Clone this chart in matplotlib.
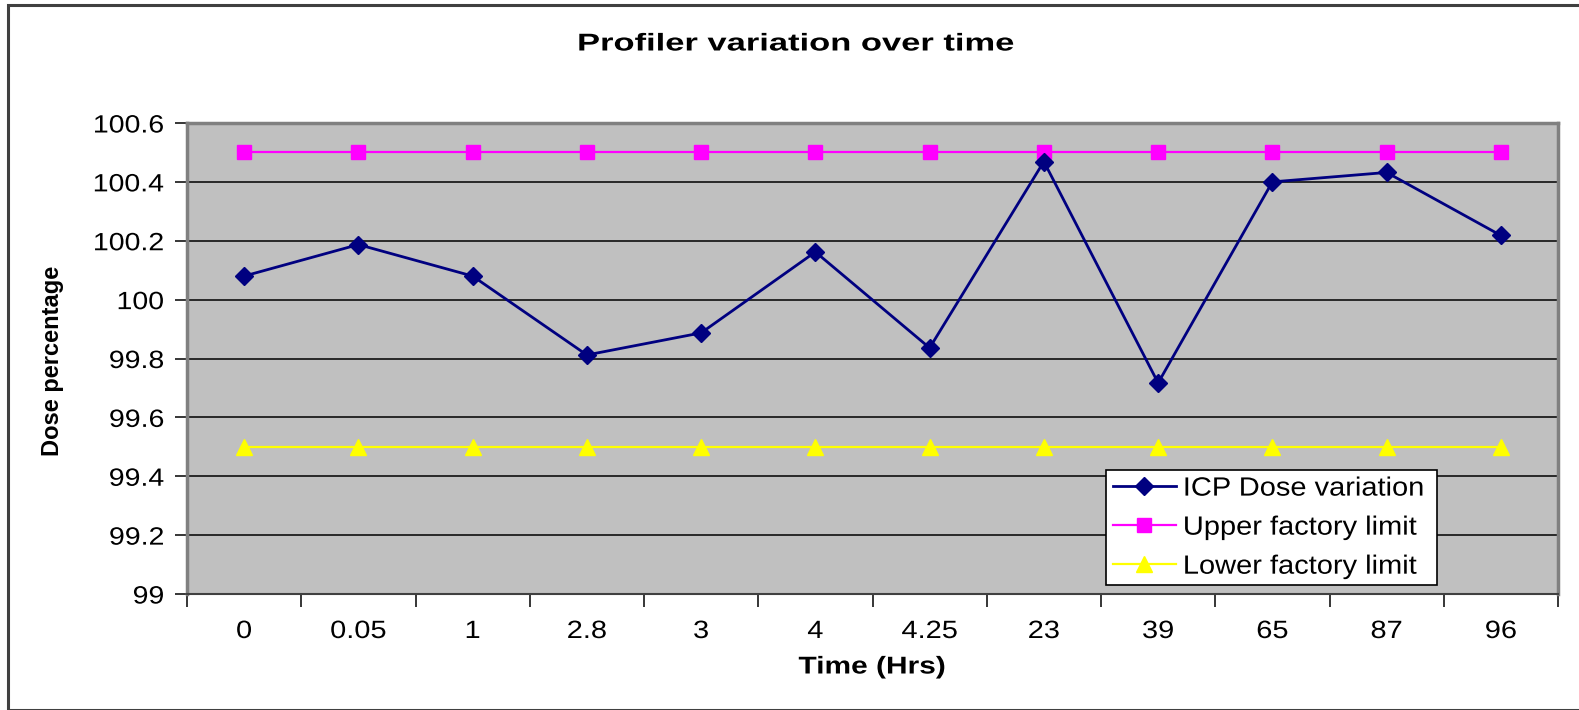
import matplotlib
matplotlib.use("Agg")
import matplotlib.pyplot as plt
from matplotlib.patches import Rectangle
from matplotlib.lines import Line2D
from matplotlib.patheffects import AbstractPathEffect
from matplotlib.transforms import Affine2D

# Sampling times (hours) used as category labels
times = ["0", "0.05", "1", "2.8", "3", "4", "4.25", "23", "39", "65", "87", "96"]
# Measured ICP dose variation (%)
icp_dose = [100.08, 100.187, 100.08, 99.812, 99.887, 100.162,
            99.836, 100.469, 99.717, 100.40, 100.432, 100.218]
upper_limit = [100.5] * len(times)
lower_limit = [99.5] * len(times)
y_ticks = [99, 99.2, 99.4, 99.6, 99.8, 100, 100.2, 100.4, 100.6]
y_tick_labels = ["99", "99.2", "99.4", "99.6", "99.8", "100", "100.2", "100.4", "100.6"]

plt.rcParams['font.family'] = ['Liberation Sans', 'DejaVu Sans']


class HStretch(AbstractPathEffect):
    """Widen glyphs horizontally around the left, centre or right of the string."""

    def __init__(self, sx, anchor="center"):
        super().__init__()
        self.sx = sx
        self.anchor = anchor

    def draw_path(self, renderer, gc, tpath, affine, rgbFace=None):
        ext = tpath.get_extents()
        if self.anchor == "center":
            cx = (ext.x0 + ext.x1) / 2
        elif self.anchor == "right":
            cx = ext.x1
        else:
            cx = ext.x0
        t = Affine2D().translate(-cx, 0).scale(self.sx, 1).translate(cx, 0) + affine
        renderer.draw_path(gc, tpath, t, rgbFace)


W, H = 1579, 710
fig = plt.figure(figsize=(W / 100, H / 100), dpi=100)

# Outer chart frame
fig.patches.append(Rectangle((8 / W, 0), 1.0, 1 - 5 / H, transform=fig.transFigure,
                             fill=False, edgecolor="#404040", linewidth=2.2))

left, right, top, bottom = 187, 1558, 123, 594
ax = fig.add_axes([left / W, 1 - bottom / H, (right - left) / W, (bottom - top) / H])
ax.set_facecolor("#C0C0C0")

x = list(range(len(times)))
ax.set_xlim(-0.5, len(times) - 0.5)
ax.set_ylim(99, 100.6)

ax.set_yticks(y_ticks)
ax.set_yticklabels(y_tick_labels)
ax.yaxis.grid(True, color="black", linewidth=1.1)
ax.set_axisbelow(True)

# Category labels centred, tick marks between categories
ax.set_xticks(x)
ax.set_xticklabels(times)
ax.tick_params(axis="x", which="major", length=0, pad=18, labelsize=18)
ax.set_xticks([i - 0.5 for i in range(len(times) + 1)], minor=True)
ax.tick_params(axis="x", which="minor", length=9, width=1.1, color="black", direction="out")
ax.tick_params(axis="y", length=9, width=1.1, color="black", pad=7.5, labelsize=18)

for lbl in ax.get_xticklabels():
    lbl.set_path_effects([HStretch(1.16, "center")])
for lbl in ax.get_yticklabels():
    lbl.set_path_effects([HStretch(1.14, "right")])

for side in ("top", "right", "left"):
    ax.spines[side].set_color("#808080")
    ax.spines[side].set_linewidth(2.5)
ax.spines["bottom"].set_color("#404040")
ax.spines["bottom"].set_linewidth(1.5)

ax.plot(x, upper_limit, color="#FF00FF", linewidth=1.6, marker="s", markersize=10,
        markeredgecolor="#FF00FF", label="Upper factory limit", zorder=3)
ax.plot(x, lower_limit, color="#FFFF00", linewidth=1.6, marker="^", markersize=11,
        markeredgecolor="#FFFF00", label="Lower factory limit", zorder=3)
ax.plot(x, icp_dose, color="#000080", linewidth=2, marker="D", markersize=9,
        markeredgecolor="#000080", label="ICP Dose variation", zorder=4)

title = fig.text(796 / W, 1 - 44 / H, "Profiler variation over time", ha="center",
                 va="center", fontsize=17.5, fontweight="bold")
title.set_path_effects([HStretch(1.42, "center")])
xlab = fig.text(872 / W, 1 - 667 / H, "Time (Hrs)", ha="center", va="center",
                fontsize=17.5, fontweight="bold")
xlab.set_path_effects([HStretch(1.23, "center")])
fig.text(53 / W, 1 - 361 / H, "Dose percentage", ha="center", va="center",
         rotation=90, fontsize=17, fontweight="bold")

handles = [
    Line2D([], [], color="#000080", linewidth=2, marker="D", markersize=9),
    Line2D([], [], color="#FF00FF", linewidth=1.6, marker="s", markersize=10),
    Line2D([], [], color="#FFFF00", linewidth=1.6, marker="^", markersize=11),
]
labels = ["ICP Dose variation", "Upper factory limit", "Lower factory limit"]
leg = ax.legend(handles, labels, loc="upper left",
                bbox_to_anchor=((1106 - left) / (right - left), (bottom - 470) / (bottom - top),
                                (1437 - 1106) / (right - left), 0.0),
                mode="expand", fontsize=19, fancybox=False, framealpha=1,
                edgecolor="black", borderpad=0.25, labelspacing=0.57,
                handlelength=2.4, handletextpad=0.27, borderaxespad=0)
leg.get_frame().set_linewidth(1.2)
for t in leg.get_texts():
    t.set_path_effects([HStretch(1.1, "left")])

fig.savefig("out.png", dpi=100)
